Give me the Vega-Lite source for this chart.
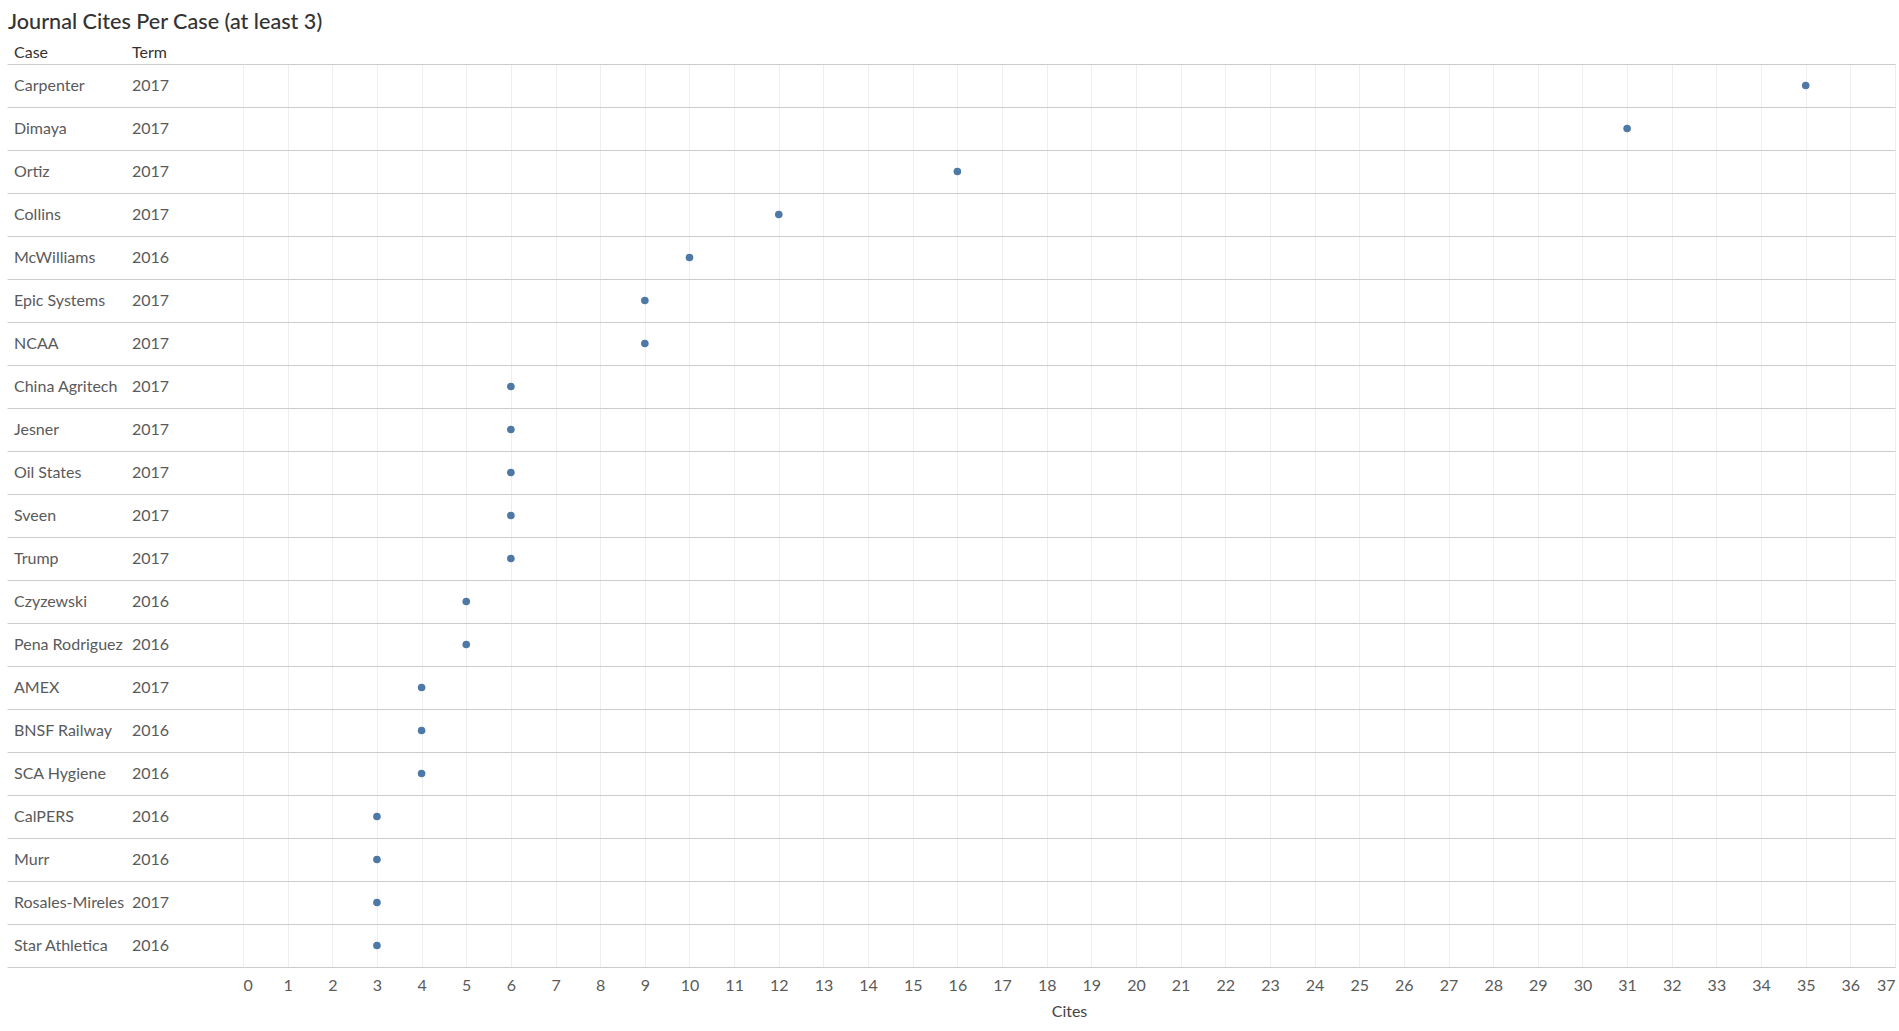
{
  "$schema": "https://vega.github.io/schema/vega-lite/v6.json",
  "padding": {"left": 7, "top": 12, "right": 4, "bottom": 5},
  "background": "white",
  "title": {
    "text": "Journal Cites Per Case (at least 3)",
    "anchor": "start",
    "font": "Lato",
    "fontSize": 21.6,
    "fontWeight": 500,
    "color": "#333333",
    "offset": 10,
    "dx": 1
  },
  "data": {
    "values": [
      {"Case": "Carpenter", "Term": "2017", "Cites": 35},
      {"Case": "Dimaya", "Term": "2017", "Cites": 31},
      {"Case": "Ortiz", "Term": "2017", "Cites": 16},
      {"Case": "Collins", "Term": "2017", "Cites": 12},
      {"Case": "McWilliams", "Term": "2016", "Cites": 10},
      {"Case": "Epic Systems", "Term": "2017", "Cites": 9},
      {"Case": "NCAA", "Term": "2017", "Cites": 9},
      {"Case": "China Agritech", "Term": "2017", "Cites": 6},
      {"Case": "Jesner", "Term": "2017", "Cites": 6},
      {"Case": "Oil States", "Term": "2017", "Cites": 6},
      {"Case": "Sveen", "Term": "2017", "Cites": 6},
      {"Case": "Trump", "Term": "2017", "Cites": 6},
      {"Case": "Czyzewski", "Term": "2016", "Cites": 5},
      {"Case": "Pena Rodriguez", "Term": "2016", "Cites": 5},
      {"Case": "AMEX", "Term": "2017", "Cites": 4},
      {"Case": "BNSF Railway", "Term": "2016", "Cites": 4},
      {"Case": "SCA Hygiene", "Term": "2016", "Cites": 4},
      {"Case": "CalPERS", "Term": "2016", "Cites": 3},
      {"Case": "Murr", "Term": "2016", "Cites": 3},
      {"Case": "Rosales-Mireles", "Term": "2017", "Cites": 3},
      {"Case": "Star Athletica", "Term": "2016", "Cites": 3}
    ]
  },
  "bounds": "flush",
  "spacing": 0,
  "hconcat": [
    {
      "width": 236,
      "height": 903,
      "view": {"stroke": null},
      "transform": [{"fold": ["Case", "Term"], "as": ["column", "label"]}],
      "mark": {"type": "text", "align": "left", "baseline": "middle", "dx": 7, "font": "Lato", "fontSize": 16, "color": "#5a5a5a"},
      "encoding": {
        "x": {
          "field": "column",
          "type": "nominal",
          "bandPosition": 0,
          "scale": {"type": "band", "domain": ["Case", "Term"], "paddingInner": 0, "paddingOuter": 0},
          "axis": {
            "orient": "top",
            "title": null,
            "labelAlign": "left",
            "labelOffset": -52,
            "labelAngle": 0,
            "labelPadding": 4,
            "labelFont": "Lato",
            "labelFontSize": 16,
            "labelColor": "#333333",
            "labelBound": false,
            "labelOverlap": false,
            "ticks": false,
            "domain": false,
            "grid": false
          }
        },
        "y": {
          "field": "Case",
          "type": "nominal",
          "sort": null,
          "scale": {"type": "band", "paddingInner": 0, "paddingOuter": 0},
          "axis": {
            "title": null,
            "labels": false,
            "ticks": false,
            "domain": false,
            "grid": true,
            "tickBand": "extent",
            "gridColor": "#cccccc",
            "gridWidth": 1
          }
        },
        "text": {"field": "label", "type": "nominal"}
      }
    },
    {
      "width": 1652,
      "height": 903,
      "mark": {"type": "point", "filled": true, "size": 58, "opacity": 1, "color": "#4e79a7"},
      "encoding": {
        "x": {
          "field": "Cites",
          "type": "quantitative",
          "scale": {"domain": [0, 37], "nice": false, "zero": true},
          "axis": {
            "title": "Cites",
            "values": [0,1,2,3,4,5,6,7,8,9,10,11,12,13,14,15,16,17,18,19,20,21,22,23,24,25,26,27,28,29,30,31,32,33,34,35,36,37],
            "format": "d",
            "labelFlush": true,
            "labelFont": "Lato",
            "labelFontSize": 16,
            "labelColor": "#5a5a5a",
            "labelPadding": 10,
            "ticks": false,
            "domain": false,
            "grid": true,
            "gridColor": "#eeeeee",
            "titleFont": "Lato",
            "titleFontSize": 16,
            "titleFontWeight": "normal",
            "titleColor": "#444444",
            "titlePadding": 10
          }
        },
        "y": {
          "field": "Case",
          "type": "nominal",
          "sort": null,
          "scale": {"type": "band", "paddingInner": 0, "paddingOuter": 0},
          "axis": {
            "title": null,
            "labels": false,
            "ticks": false,
            "domain": false,
            "grid": true,
            "tickBand": "extent",
            "gridColor": "#cccccc",
            "gridWidth": 1
          }
        }
      }
    }
  ],
  "config": {
    "view": {"stroke": "#cccccc"},
    "axis": {"gridOpacity": 1}
  }
}
